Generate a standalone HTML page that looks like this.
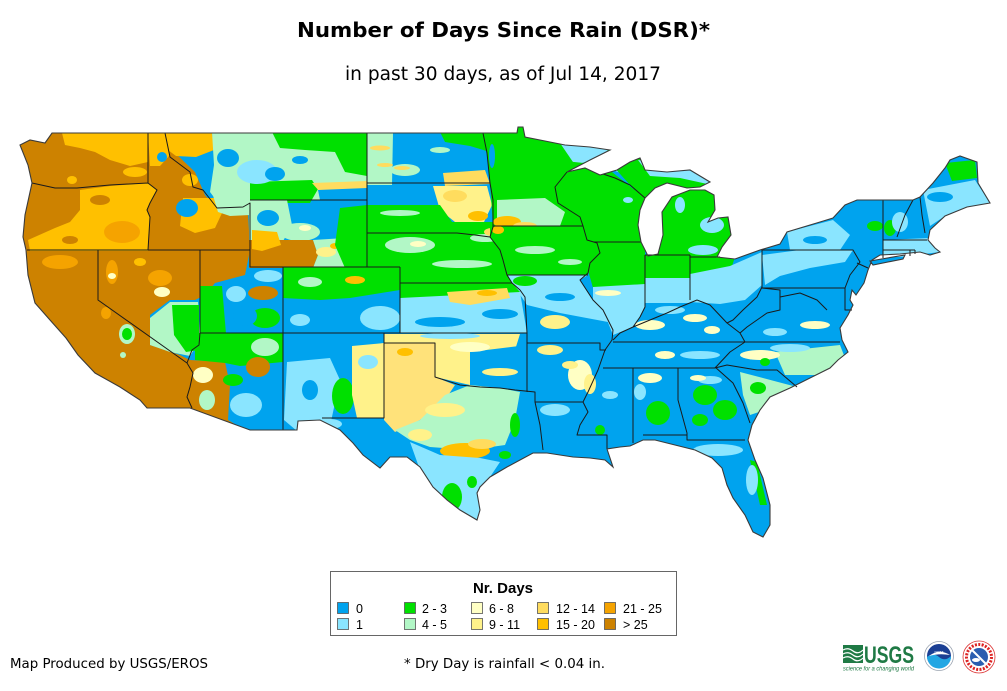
<!DOCTYPE html>
<html><head><meta charset="utf-8"><style>
html,body{margin:0;padding:0;background:#fff;}
svg{display:block;}
.a{fill:#00a3ee}.b{fill:#8ae5ff}.g{fill:#00e000}.m{fill:#b2f7c6}.y6{fill:#ffffc4}.y9{fill:#fff28a}.y12{fill:#ffdc5e}.o15{fill:#ffc000}.o21{fill:#f5a300}.br{fill:#cd8200}
</style></head><body>
<svg width="1007" height="691" viewBox="0 0 1007 691" xmlns="http://www.w3.org/2000/svg">
<defs>
<clipPath id="us"><path id="usp" d="M52,133 L517,133 L518,127 L523,127 L525,137 L545,141 L565,145 L590,147 L610,150 L590,160 L567,172 L585,168 L600,175 L617,170 L630,162 L640,158 L645,170 L667,172 L690,170 L710,182 L700,187 L687,188 L667,183 L655,188 L645,198 L640,210 L638,225 L641,242 L648,256 L658,254 L663,235 L662,212 L672,197 L690,190 L705,190 L714,195 L715,210 L708,222 L718,218 L728,217 L731,235 L722,247 L717,257 L735,259 L760,250 L780,244 L787,232 L820,222 L833,218 L845,205 L857,200 L913,200 L920,197 L933,183 L945,168 L950,160 L960,156 L977,162 L978,183 L990,203 L967,207 L945,216 L930,230 L928,240 L935,248 L940,252 L930,255 L920,252 L900,254 L880,255 L872,260 L868,270 L864,283 L856,295 L852,290 L850,300 L853,305 L848,315 L840,328 L842,340 L848,352 L838,360 L830,368 L810,378 L790,388 L770,397 L760,410 L752,425 L748,440 L755,460 L763,478 L770,505 L770,525 L763,537 L753,532 L745,515 L733,498 L727,485 L722,468 L712,458 L695,450 L675,445 L655,440 L643,440 L630,446 L620,447 L607,449 L613,467 L605,460 L590,458 L573,457 L547,453 L533,453 L520,460 L507,467 L490,477 L480,487 L477,493 L480,510 L477,520 L460,510 L447,500 L433,487 L420,467 L407,457 L390,457 L380,468 L363,455 L353,443 L340,430 L320,420 L298,421 L297,430 L250,430 L190,408 L147,408 L140,400 L120,387 L95,373 L78,355 L66,338 L50,320 L35,303 L28,275 L26,250 L23,237 L25,215 L32,183 L28,165 L20,145 L30,140 L45,143 Z M870,261 L905,255 L903,259 L873,265 Z"/></clipPath>
</defs>
<rect width="1007" height="691" fill="#fff"/>
<text x="503.5" y="37" text-anchor="middle" font-family="DejaVu Sans, Liberation Sans, sans-serif" font-weight="bold" font-size="20" textLength="413" lengthAdjust="spacingAndGlyphs">Number of Days Since Rain (DSR)*</text>
<text x="503" y="80" text-anchor="middle" font-family="DejaVu Sans, Liberation Sans, sans-serif" font-size="18.5" textLength="316" lengthAdjust="spacingAndGlyphs">in past 30 days, as of Jul 14, 2017</text>

<g clip-path="url(#us)">
<rect class="a" x="0" y="100" width="1007" height="450"/>
<path class="br" d="M0,110 L170,110 L172,150 L195,172 L205,195 L220,212 L248,212 L250,250 L245,275 L215,283 L205,295 L195,300 L170,300 L150,315 L150,345 L180,355 L190,360 L225,362 L230,385 L228,420 L252,434 L0,434 Z"/>
<path class="o15" d="M62,133 L148,133 L148,162 L130,166 L110,160 L95,152 L80,148 L65,145 Z"/>
<ellipse class="o15" cx="135" cy="172" rx="12" ry="5"/>
<ellipse class="o15" cx="72" cy="180" rx="5" ry="4"/>
<path class="o15" d="M80,190 L110,186 L148,183 L157,190 L150,203 L147,210 L150,217 L148,251 L30,251 L28,240 L55,228 L70,222 L80,210 Z"/>
<ellipse class="o21" cx="122" cy="232" rx="18" ry="11"/>
<ellipse class="br" cx="100" cy="200" rx="10" ry="5"/>
<ellipse class="br" cx="70" cy="240" rx="8" ry="4"/>
<ellipse class="o21" cx="60" cy="262" rx="18" ry="7"/>
<ellipse class="o21" cx="112" cy="272" rx="6" ry="12"/>
<ellipse class="o21" cx="160" cy="278" rx="12" ry="8"/>
<ellipse class="o15" cx="140" cy="262" rx="6" ry="4"/>
<ellipse class="y6" cx="112" cy="276" rx="4" ry="3"/>
<ellipse class="y6" cx="162" cy="292" rx="8" ry="5"/>
<ellipse class="o21" cx="106" cy="313" rx="5" ry="6"/>
<ellipse class="m" cx="127" cy="334" rx="8" ry="10"/>
<ellipse class="g" cx="127" cy="334" rx="5" ry="6"/>
<ellipse class="m" cx="123" cy="355" rx="3" ry="3"/>
<path class="m" d="M150,318 L170,302 L198,302 L200,340 L190,356 L170,352 L150,345 Z"/>
<path class="g" d="M172,305 L199,305 L199,350 L186,352 L174,335 Z"/>
<path class="o15" d="M148,133 L167,133 L170,155 L160,166 L150,166 Z"/>
<circle class="a" cx="162" cy="157" r="5"/>
<path class="o15" d="M183,198 L214,198 L222,213 L215,228 L195,233 L180,226 Z"/>
<ellipse class="a" cx="187" cy="208" rx="11" ry="9"/>
<path class="m" d="M212,192 L250,192 L250,215 L230,216 L218,212 Z"/>
<path class="o15" d="M166,133 L212,133 L214,150 L196,157 L176,156 L168,150 Z"/>
<ellipse class="o15" cx="190" cy="180" rx="8" ry="6"/>
<path class="m" d="M212,132 L367,132 L367,200 L250,200 L243,207 L222,208 L210,192 L214,165 Z"/>
<path class="g" d="M272,132 L367,132 L367,176 L345,172 L335,152 L305,150 L280,148 Z"/>
<path class="g" d="M250,182 L312,180 L318,189 L310,203 L250,203 Z"/>
<ellipse class="b" cx="257" cy="172" rx="20" ry="12"/>
<ellipse class="a" cx="275" cy="174" rx="10" ry="7"/>
<ellipse class="a" cx="228" cy="158" rx="11" ry="9"/>
<ellipse class="a" cx="300" cy="160" rx="8" ry="4"/>
<path class="y12" d="M312,183 L367,181 L367,190 L320,192 Z"/>
<path class="a" d="M318,190 L367,188 L367,200 L320,200 Z"/>
<path class="m" d="M249,200 L287,200 L292,225 L282,243 L249,243 Z"/>
<ellipse class="a" cx="268" cy="218" rx="11" ry="8"/>
<ellipse class="m" cx="300" cy="232" rx="20" ry="9"/>
<ellipse class="y6" cx="305" cy="228" rx="6" ry="3"/>
<path class="br" d="M249,240 L313,240 L318,255 L313,268 L249,268 Z"/>
<path class="o15" d="M252,230 L277,232 L281,245 L262,251 L252,249 Z"/>
<path class="m" d="M313,240 L345,238 L350,268 L313,268 L318,255 Z"/>
<ellipse class="y9" cx="326" cy="252" rx="10" ry="5"/>
<ellipse class="o15" cx="335" cy="246" rx="5" ry="3"/>
<path class="g" d="M340,208 L367,205 L367,268 L345,268 L335,245 Z"/>
<path class="m" d="M367,133 L393,133 L392,185 L367,185 Z"/>
<ellipse class="y12" cx="380" cy="148" rx="10" ry="2.5"/>
<ellipse class="y12" cx="385" cy="165" rx="8" ry="2"/>
<ellipse class="m" cx="405" cy="170" rx="15" ry="6"/>
<ellipse class="y12" cx="402" cy="168" rx="8" ry="2"/>
<ellipse class="m" cx="440" cy="150" rx="10" ry="3"/>
<path class="g" d="M440,132 L490,132 L490,152 L470,146 L445,142 Z"/>
<path class="y12" d="M443,173 L485,170 L490,184 L445,186 Z"/>
<path class="y9" d="M433,186 L487,186 L492,205 L484,222 L455,222 L440,210 Z"/>
<ellipse class="y12" cx="455" cy="196" rx="12" ry="6"/>
<ellipse class="o15" cx="478" cy="216" rx="10" ry="5"/>
<path class="g" d="M367,205 L440,205 L452,222 L493,222 L493,240 L367,240 Z"/>
<ellipse class="m" cx="400" cy="213" rx="20" ry="3"/>
<path class="g" d="M367,233 L490,233 L500,250 L507,275 L512,283 L400,283 L400,267 L367,267 Z"/>
<ellipse class="m" cx="410" cy="245" rx="25" ry="8"/>
<ellipse class="y6" cx="418" cy="244" rx="8" ry="3"/>
<ellipse class="m" cx="462" cy="264" rx="30" ry="4"/>
<ellipse class="m" cx="485" cy="238" rx="15" ry="4"/>
<ellipse class="y12" cx="492" cy="232" rx="8" ry="4"/>
<path class="g" d="M483,120 L615,120 L610,150 L567,172 L555,187 L558,203 L580,217 L583,226 L493,226 L490,183 L487,153 Z"/>
<path class="b" d="M560,143 L612,146 L600,158 L575,165 Z"/>
<ellipse class="a" cx="492" cy="156" rx="3" ry="12"/>
<path class="m" d="M497,200 L545,198 L565,212 L560,226 L497,226 Z"/>
<ellipse class="o15" cx="507" cy="222" rx="14" ry="6"/>
<ellipse class="y12" cx="525" cy="226" rx="12" ry="4"/>
<path class="g" d="M490,226 L585,226 L597,243 L600,253 L590,263 L588,275 L507,275 L500,250 L490,237 Z"/>
<ellipse class="m" cx="535" cy="250" rx="20" ry="4"/>
<ellipse class="m" cx="570" cy="262" rx="12" ry="3"/>
<ellipse class="o15" cx="498" cy="230" rx="6" ry="4"/>
<path class="g" d="M555,160 L603,165 L645,198 L641,242 L593,242 L583,226 L580,217 L558,203 L555,187 Z"/>
<ellipse class="b" cx="625" cy="168" rx="12" ry="5"/>
<ellipse class="b" cx="628" cy="200" rx="5" ry="3"/>
<path class="g" d="M603,155 L720,155 L720,195 L645,200 L630,185 Z"/>
<path class="b" d="M638,160 L712,170 L712,185 L680,178 L650,176 Z"/>
<path class="g" d="M650,185 L740,185 L740,257 L648,257 Z"/>
<ellipse class="b" cx="712" cy="225" rx="12" ry="8"/>
<ellipse class="b" cx="703" cy="250" rx="15" ry="5"/>
<ellipse class="b" cx="680" cy="205" rx="5" ry="8"/>
<path class="g" d="M580,242 L645,242 L645,290 L595,295 Z"/>
<path class="b" d="M593,287 L645,284 L645,307 L640,317 L633,327 L613,335 L603,310 L593,300 Z"/>
<ellipse class="y6" cx="608" cy="293" rx="13" ry="3"/>
<rect class="g" x="645" y="255" width="46" height="25"/>
<rect class="b" x="645" y="278" width="46" height="25"/>
<path class="g" d="M690,255 L735,257 L730,272 L690,276 Z"/>
<path class="b" d="M690,274 L730,266 L762,252 L762,285 L745,300 L720,304 L690,302 Z"/>
<path class="b" d="M762,255 L800,250 L853,250 L845,262 L810,268 L780,276 L765,285 Z"/>
<path class="b" d="M787,232 L833,220 L850,235 L840,250 L790,250 Z"/>
<ellipse class="a" cx="815" cy="240" rx="12" ry="4"/>
<ellipse class="g" cx="875" cy="226" rx="8" ry="5"/>
<ellipse class="g" cx="890" cy="228" rx="6" ry="8"/>
<path class="b" d="M923,190 L975,180 L990,203 L967,207 L945,216 L930,226 Z"/>
<ellipse class="a" cx="940" cy="197" rx="13" ry="5"/>
<path class="g" d="M945,163 L975,160 L977,178 L952,181 Z"/>
<ellipse class="b" cx="900" cy="222" rx="8" ry="10"/>
<path class="b" d="M883,240 L930,238 L940,252 L900,257 L883,257 Z"/>
<path class="b" d="M507,275 L588,275 L580,280 L593,300 L603,310 L608,322 L560,313 L527,305 L512,283 Z"/>
<ellipse class="g" cx="525" cy="281" rx="12" ry="5"/>
<ellipse class="y9" cx="555" cy="322" rx="15" ry="7"/>
<ellipse class="a" cx="560" cy="297" rx="15" ry="4"/>
<path class="g" d="M400,283 L512,283 L520,292 L505,298 L400,300 Z"/>
<path class="b" d="M400,298 L520,292 L527,333 L400,333 Z"/>
<ellipse class="a" cx="440" cy="322" rx="25" ry="5"/>
<ellipse class="a" cx="500" cy="314" rx="18" ry="5"/>
<path class="y12" d="M447,292 L507,288 L510,298 L470,305 L450,302 Z"/>
<ellipse class="o15" cx="487" cy="293" rx="10" ry="3"/>
<path class="g" d="M283,267 L400,267 L400,290 L350,298 L320,300 L283,298 Z"/>
<ellipse class="m" cx="310" cy="282" rx="12" ry="5"/>
<ellipse class="o15" cx="355" cy="280" rx="10" ry="4"/>
<ellipse class="b" cx="380" cy="318" rx="20" ry="12"/>
<ellipse class="b" cx="300" cy="320" rx="10" ry="6"/>
<ellipse class="b" cx="268" cy="276" rx="14" ry="6"/>
<path class="g" d="M200,286 L222,286 L226,334 L200,334 Z"/>
<ellipse class="br" cx="263" cy="293" rx="15" ry="7"/>
<ellipse class="b" cx="236" cy="294" rx="10" ry="8"/>
<ellipse class="g" cx="265" cy="318" rx="15" ry="10"/>
<ellipse class="a" cx="245" cy="316" rx="12" ry="10"/>
<path class="g" d="M195,333 L283,333 L283,362 L240,366 L225,363 L195,360 Z"/>
<ellipse class="m" cx="265" cy="347" rx="14" ry="9"/>
<ellipse class="br" cx="258" cy="367" rx="12" ry="10"/>
<ellipse class="b" cx="246" cy="405" rx="16" ry="12"/>
<ellipse class="g" cx="233" cy="380" rx="10" ry="6"/>
<ellipse class="y6" cx="203" cy="375" rx="10" ry="8"/>
<ellipse class="m" cx="207" cy="400" rx="8" ry="10"/>
<path class="b" d="M287,362 L330,358 L340,380 L330,426 L297,431 L284,420 Z"/>
<ellipse class="a" cx="310" cy="390" rx="8" ry="10"/>
<ellipse class="g" cx="343" cy="396" rx="11" ry="18"/>
<path class="y9" d="M352,346 L384,343 L384,418 L357,418 L352,395 Z"/>
<ellipse class="b" cx="368" cy="362" rx="10" ry="7"/>
<path class="y9" d="M384,334 L520,334 L515,350 L480,357 L470,385 L435,377 L435,343 L384,343 Z"/>
<path class="a" d="M470,352 L527,345 L527,392 L470,388 Z"/>
<ellipse class="y9" cx="500" cy="372" rx="18" ry="4"/>
<ellipse class="b" cx="450" cy="336" rx="30" ry="3"/>
<ellipse class="y6" cx="470" cy="347" rx="20" ry="5"/>
<path d="M384,343 L435,343 L435,377 L455,385 L445,400 L420,420 L395,432 L384,420 Z" fill="#ffe27a"/>
<ellipse class="o15" cx="405" cy="352" rx="8" ry="4"/>
<path class="m" d="M395,430 L420,420 L445,395 L470,385 L500,388 L520,392 L515,420 L505,445 L470,450 L430,447 L410,440 Z"/>
<ellipse class="y9" cx="445" cy="410" rx="20" ry="7"/>
<ellipse class="y9" cx="420" cy="435" rx="12" ry="6"/>
<ellipse class="o15" cx="465" cy="451" rx="25" ry="8"/>
<ellipse class="y12" cx="482" cy="444" rx="14" ry="5"/>
<path class="b" d="M410,442 L440,455 L480,458 L500,462 L490,477 L478,490 L482,522 L440,500 L420,470 Z"/>
<ellipse class="g" cx="452" cy="497" rx="10" ry="14"/>
<ellipse class="g" cx="472" cy="482" rx="5" ry="6"/>
<ellipse class="g" cx="515" cy="425" rx="5" ry="12"/>
<ellipse class="g" cx="505" cy="455" rx="6" ry="4"/>
<ellipse class="b" cx="330" cy="424" rx="12" ry="5"/>
<ellipse class="y9" cx="550" cy="350" rx="13" ry="5"/>
<ellipse class="y6" cx="580" cy="375" rx="12" ry="15"/>
<ellipse class="y9" cx="570" cy="365" rx="8" ry="4"/>
<ellipse class="b" cx="555" cy="410" rx="15" ry="6"/>
<ellipse class="y9" cx="590" cy="384" rx="6" ry="10"/>
<ellipse class="g" cx="600" cy="430" rx="5" ry="5"/>
<ellipse class="b" cx="610" cy="395" rx="8" ry="4"/>
<ellipse class="y6" cx="650" cy="325" rx="15" ry="5"/>
<ellipse class="y6" cx="695" cy="318" rx="12" ry="4"/>
<ellipse class="y6" cx="712" cy="330" rx="8" ry="4"/>
<ellipse class="b" cx="670" cy="310" rx="15" ry="4"/>
<ellipse class="y6" cx="665" cy="355" rx="10" ry="4"/>
<ellipse class="b" cx="700" cy="355" rx="20" ry="4"/>
<ellipse class="y6" cx="815" cy="325" rx="15" ry="4"/>
<ellipse class="b" cx="775" cy="332" rx="12" ry="4"/>
<path class="m" d="M775,352 L840,345 L845,358 L820,375 L785,375 Z"/>
<ellipse class="y6" cx="760" cy="355" rx="20" ry="5"/>
<ellipse class="b" cx="790" cy="348" rx="20" ry="4"/>
<ellipse class="g" cx="765" cy="362" rx="5" ry="4"/>
<path class="m" d="M740,372 L797,387 L790,395 L765,410 L750,415 L743,395 Z"/>
<ellipse class="g" cx="758" cy="388" rx="8" ry="6"/>
<ellipse class="g" cx="705" cy="395" rx="12" ry="10"/>
<ellipse class="g" cx="725" cy="410" rx="12" ry="10"/>
<ellipse class="g" cx="700" cy="420" rx="8" ry="6"/>
<ellipse class="b" cx="710" cy="380" rx="12" ry="4"/>
<ellipse class="y6" cx="698" cy="378" rx="8" ry="3"/>
<ellipse class="g" cx="658" cy="413" rx="12" ry="12"/>
<ellipse class="y6" cx="650" cy="378" rx="12" ry="5"/>
<ellipse class="b" cx="640" cy="392" rx="6" ry="8"/>
<ellipse class="b" cx="718" cy="450" rx="25" ry="6"/>
<path class="g" d="M750,460 L757,462 L767,505 L760,505 Z"/>
<ellipse class="b" cx="752" cy="480" rx="6" ry="15"/>
</g>

<g fill="none" stroke="#1a1a1a" stroke-width="1" stroke-linejoin="round">
<path d="M148,133 L148,183 M32,183 L55,188 L77,188 L110,185 L148,183 L157,190 L150,203 L147,210 L150,217 L148,250 M27,250 L250,250 M98,250 L98,300 L187,363 M200,250 L200,333 L199,345 L192,350 L187,363 L193,373 L190,387 L187,397 L192,408 M165,133 L170,157 L190,172 L193,187 L203,190 L217,208 L243,207 L250,203 L250,267 L400,267 M250,200 L367,200 M367,133 L367,267 M367,183 L490,183 M483,133 L487,153 L490,183 L493,200 L493,227 L490,237 M367,233 L457,233 L475,235 L490,237 L500,250 L503,260 L507,275 L512,283 L520,290 L525,297 L527,333 M283,267 L283,430 M400,267 L400,333 M400,283 L512,283 M200,333 L527,333 M384,333 L384,418 L322,418 M384,343 L435,343 L435,377 L460,385 L480,387 L500,388 L515,390 L535,392 L535,402 L540,425 L543,450 M527,333 L527,392 M535,402 L583,402 M527,343 L600,343 L600,350 L606,350 M507,275 L588,275 M583,226 L587,240 L597,243 L600,253 L590,263 L588,273 L580,280 L593,300 L603,310 L613,330 L612,340 L605,350 L598,370 L588,392 L583,402 L588,412 L580,425 L577,435 L607,435 L607,449 M493,226 L583,226 M567,172 L555,187 L558,203 L580,217 L583,226 M593,242 L641,242 M645,198 L630,185 L615,178 L603,174 M645,255 L690,255 M690,257 L720,257 M645,255 L645,307 L640,317 L633,327 M613,340 L620,333 L633,327 L650,320 L667,313 L680,307 L697,300 L710,305 L727,323 L733,320 L743,310 L757,297 L762,287 M690,255 L690,300 M762,250 L762,288 L845,288 L845,310 L852,310 M762,250 L853,250 L860,262 L850,275 L845,288 M857,263 L868,268 M883,200 L883,258 M913,200 L905,215 L897,237 M920,197 L922,215 L925,233 M883,240 L927,240 M883,250 L915,250 M910,250 L910,256 M915,250 L915,254 M762,288 L780,290 L780,297 L800,293 L817,300 L827,310 M780,297 L780,310 L767,313 L747,327 L740,333 L727,323 M740,333 L745,342 M613,342 L840,342 M745,342 L730,352 L715,368 M603,368 L715,368 M715,368 L727,365 L757,370 L777,370 L797,387 M715,367 L733,383 L743,403 L750,423 M633,368 L633,443 M678,368 L678,400 L687,433 L687,440 L745,440 M643,435 L687,435"/>
</g>
<use href="#usp" fill="none" stroke="#3a3a3a" stroke-width="1.1"/>

<!-- Legend -->
<rect x="330.5" y="571.5" width="346" height="64" fill="#fff" stroke="#666" stroke-width="1"/>
<text x="503" y="593" text-anchor="middle" font-family="Liberation Sans, Arial, sans-serif" font-weight="bold" font-size="15">Nr. Days</text>
<g stroke="#555" stroke-width="0.8">
<rect x="337.5" y="602.5" width="11" height="11" fill="#00a3ee"/>
<rect x="337.5" y="618.5" width="11" height="11" fill="#8ae5ff"/>
<rect x="404.5" y="602.5" width="11" height="11" fill="#00e000"/>
<rect x="404.5" y="618.5" width="11" height="11" fill="#b2f7c6"/>
<rect x="471.5" y="602.5" width="11" height="11" fill="#ffffc4"/>
<rect x="471.5" y="618.5" width="11" height="11" fill="#fff28a"/>
<rect x="537.5" y="602.5" width="11" height="11" fill="#ffdc5e"/>
<rect x="537.5" y="618.5" width="11" height="11" fill="#ffc000"/>
<rect x="604.5" y="602.5" width="11" height="11" fill="#f5a300"/>
<rect x="604.5" y="618.5" width="11" height="11" fill="#cd8200"/>
</g>
<g font-family="Liberation Sans, Arial, sans-serif" font-size="12.5" fill="#000">
<text x="356" y="613">0</text>
<text x="356" y="629">1</text>
<text x="422" y="613">2 - 3</text>
<text x="422" y="629">4 - 5</text>
<text x="489" y="613">6 - 8</text>
<text x="489" y="629">9 - 11</text>
<text x="556" y="613">12 - 14</text>
<text x="556" y="629">15 - 20</text>
<text x="623" y="613">21 - 25</text>
<text x="623" y="629">&gt; 25</text>
</g>

<!-- Footer -->
<text x="10" y="668" font-family="DejaVu Sans, Liberation Sans, sans-serif" font-size="13.5" textLength="198" lengthAdjust="spacingAndGlyphs">Map Produced by USGS/EROS</text>
<text x="404" y="668" font-family="DejaVu Sans, Liberation Sans, sans-serif" font-size="13.5" textLength="201" lengthAdjust="spacingAndGlyphs">* Dry Day is rainfall &lt; 0.04 in.</text>

<!-- USGS logo -->
<rect x="843" y="645" width="20" height="18" fill="#1f7a45"/>
<path d="M843,650 Q848,647 853,651 T863,650 M843,654 Q848,651 853,655 T863,654 M843,658 Q848,655 853,659 T863,658" stroke="#fff" stroke-width="1.2" fill="none"/>
<text x="864" y="663" font-family="Liberation Sans, Arial, sans-serif" font-weight="bold" font-size="24" fill="#1f7a45" textLength="50" lengthAdjust="spacingAndGlyphs">USGS</text>
<text x="843" y="670.5" font-family="Liberation Sans, Arial, sans-serif" font-style="italic" font-size="6" fill="#1f7a45" textLength="71" lengthAdjust="spacingAndGlyphs">science for a changing world</text>

<!-- NOAA logo -->
<circle cx="939" cy="656" r="14.5" fill="#fff" stroke="#9aa3b0" stroke-width="0.8"/>
<circle cx="939" cy="656" r="12" fill="#1b3f94"/>
<path d="M927,657 Q933,652 939,657 Q945,662 951,656 A12,12 0 0 1 927,657 Z" fill="#22a6e3"/>
<path d="M929,656 Q939,648 950,655 Q939,653 929,656 Z" fill="#fff"/>
<text x="939" y="653" text-anchor="middle" font-family="Liberation Sans, sans-serif" font-size="4" fill="#fff">noaa</text>

<!-- NWS logo -->
<circle cx="979" cy="657" r="16" fill="#fff" stroke="#d33" stroke-width="0.8"/>
<circle cx="979" cy="657" r="12.5" fill="none" stroke="#d22" stroke-width="3" stroke-dasharray="2 1.4"/>
<circle cx="979" cy="657" r="9" fill="#2a5db0"/>
<path d="M972,650 L986,664" stroke="#fff" stroke-width="2"/>
<ellipse cx="976" cy="660" rx="4" ry="2" fill="#fff"/>
</svg>
</body></html>
